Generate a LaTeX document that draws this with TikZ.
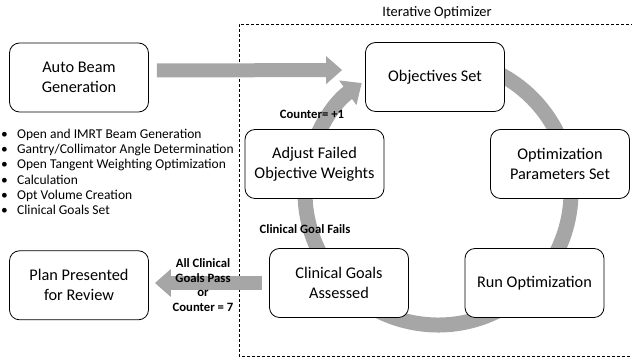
\documentclass[tikz,border=0pt]{standalone}
\usepackage{fontspec}
\setmainfont{Carlito}
\usetikzlibrary{positioning,arrows.meta}
\definecolor{flowgray}{RGB}{166,166,166}

\begin{document}
\begin{tikzpicture}[x=1pt,y=1pt,
  stepbox/.style={draw,rounded corners=10pt,fill=white,line width=0.8pt,minimum width=139pt,minimum height=69pt,align=center,font=\fontsize{16.3}{20}\selectfont},
  fatarrow/.style={flowgray,line width=14pt,-{Triangle[length=16pt,width=27pt]}},
  ring/.style={flowgray,line width=15pt,-{Triangle[length=17pt,width=29pt]}},
  note/.style={font=\fontsize{12.7}{14.5}\selectfont\bfseries,align=center,inner sep=0pt}]

\useasboundingbox (0,0) rectangle (632,358);

% feedback ring
\coordinate (ringCenter) at (438,166);
\draw[ring] ([shift={(80:133pt)}]ringCenter) arc[start angle=80,end angle=-235,radius=133pt];

% optimizer frame
\draw[dash pattern=on 3pt off 2pt,line width=0.7pt] (634,334) -| (239,2) -- (634,2);
\node[font=\fontsize{14.4}{16}\selectfont] (optLabel) at (437,345) {Iterative Optimizer};

% steps
\node[stepbox] (autoBeam) at (79,280.5) {Auto Beam\\Generation};
\node[stepbox,below=138pt of autoBeam] (planReview) {Plan Presented\\for Review};
\node[stepbox] (objSet) at (435,281) {Objectives Set};
\node[stepbox] (optParams) at (560,194) {Optimization\\Parameters Set};
\node[stepbox] (runOpt) at (534.5,75) {Run Optimization};
\node[stepbox] (goalsAssessed) at (339,75) {Clinical Goals\\Assessed};
\node[stepbox] (adjustWeights) at (314.5,194) {Adjust Failed\\Objective Weights};

% auto beam tasks
\node[anchor=north west,align=left,inner sep=0pt,font=\fontsize{13.5}{15.2}\selectfont] (beamSteps) at (1,229) {%
\makebox[16pt][l]{\textbullet}Open and IMRT Beam Generation\\
\makebox[16pt][l]{\textbullet}Gantry/Collimator Angle Determination\\
\makebox[16pt][l]{\textbullet}Open Tangent Weighting Optimization\\
\makebox[16pt][l]{\textbullet}Calculation\\
\makebox[16pt][l]{\textbullet}Opt Volume Creation\\
\makebox[16pt][l]{\textbullet}Clinical Goals Set};

% arrows
\draw[fatarrow,shorten <=8pt,shorten >=23pt] ([yshift=7pt]autoBeam.east) -- ([yshift=7pt]objSet.west);
\draw[fatarrow,shorten <=7pt,shorten >=6pt] (goalsAssessed.west) -- (goalsAssessed.west -| planReview.east);

% labels
\node[note] (counterNote) at (312,244) {Counter= +1};
\node[note] (failNote) at (305,129) {Clinical Goal Fails};
\node[note] (passNote) at (203,73) {All Clinical\\Goals Pass\\or\\Counter = 7};

\end{tikzpicture}
\end{document}
